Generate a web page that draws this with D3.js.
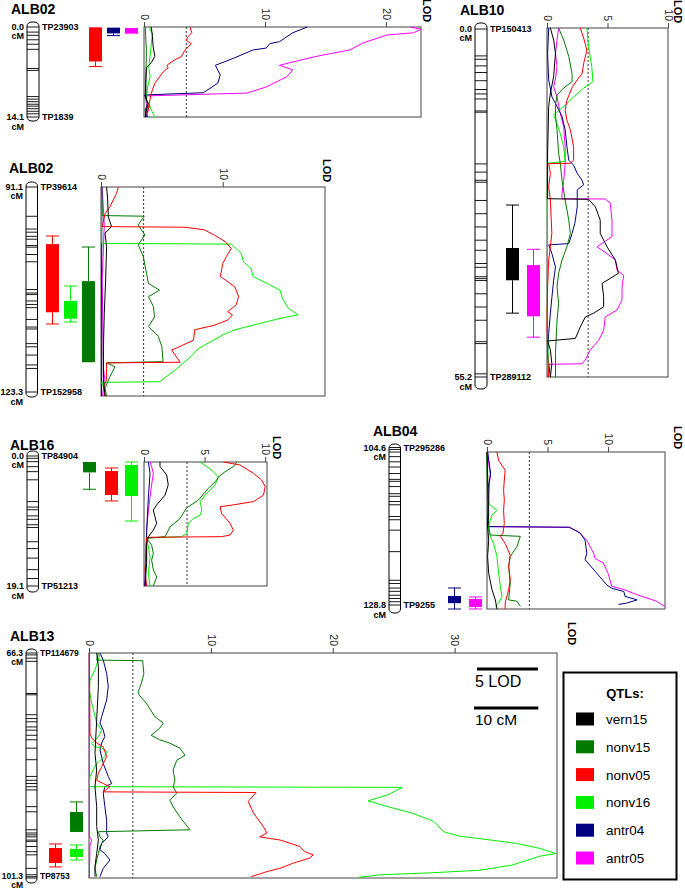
<!DOCTYPE html>
<html><head><meta charset="utf-8">
<script src="https://cdn.jsdelivr.net/npm/d3@7"></script>
<style>
body{margin:0;background:#fff;}
svg{display:block;font-family:"Liberation Sans",Arial,Helvetica,sans-serif;}
</style></head><body>
<svg id="c" width="685" height="890"></svg>
<script>
// ---------------- DATA ----------------
const traits = ["vern15","nonv15","nonv05","nonv16","antr04","antr05"];
const titles = ["ALB02","ALB02","ALB10","ALB16","ALB04","ALB13"];
const endNames = [["TP23903","TP1839"],["TP39614","TP152958"],["TP150413","TP289112"],["TP84904","TP51213"],["TP295286","TP9255"],["TP114679","TP8753"]];
const lodMax = [22.9, 18.4, 10, 10.15, 14.7, 38.4];
const lodTicks = [[0,10,20],[0,10],[0,5,10],[0,5,10],[0,5,10],[0,10,20,30]];
const thresholds = [3.5, 3.5, 3.4, 3.55, 3.5, 3.6];

// marker positions (cM)
const p1_markers = [0,0.8,1.3,2.0,2.7,3.5,6.5,6.8,10.9,11.3,11.7,12.1,12.4,12.8,13.2,13.6,14.1];
const p2_markers = [91.1,95.7,97.7,98.2,98.85,99.3,100.3,100.55,101.7,102.85,107.2,107.75,108.0,109.0,109.55,110.05,111.9,113.1,113.4,115.7,116.2,117.5,119.05,119.6,123.3];
const p3_markers = [0,4.27,4.8,5.85,6.9,8.2,9.6,10.3,11.1,13.0,13.2,21.4,22.7,24.0,24.3,27.2,29.3,31.4,33.5,35.1,37.2,37.8,39.3,39.6,39.9,42.0,44.1,46.2,49.6,49.9,54.7,55.2];
const p4_markers = [0,0.34,0.83,1.57,2.3,3.5,6.7,7.5,7.9,8.8,9.3,10.1,10.5,12.6,13.6,15.0,16.7,18.0,19.1];
const p5_markers = [104.6,104.9,105.3,106.0,106.8,107.6,108.6,109.5,109.8,110.6,111.7,112.1,112.9,113.4,115.2,115.7,117.3,120.6,125.0,125.5,126.2,126.7,127.3,127.8,128.3,128.8];
const p6_markers = [66.3,66.6,67.1,67.6,72.6,72.8,75.9,76.5,77.0,77.8,78.3,79.1,79.8,81.1,82.9,85.5,86.1,86.6,87.1,87.6,90.2,91.0,93.8,94.3,94.6,94.9,95.4,95.6,96.4,97.2,97.7,99.8,100.8,101.1,101.3];

// LOD profiles: [cM, LOD]
const p1_vern15 = [[0,0.6],[1.5,0.7],[3.0,0.75],[4.6,0.9],[5.6,0.6],[6.4,0.2],[8.3,0.15],[10.6,0.1],[12,0.3],[13,0.2],[14.1,0.1]];
const p1_nonv15 = [[0,0.1],[3.6,0.2],[8.8,0.15],[11.4,0.2],[12.4,0.5],[13.5,0.15],[14.1,0.1]];
const p1_nonv05 = [[0,3.8],[0.9,3.95],[1.6,3.6],[2.1,3.5],[2.6,3.9],[3.6,3.4],[4.6,3.1],[5.3,2.4],[6.0,1.9],[6.4,2.0],[7.0,1.6],[8.8,0.9],[10.4,0.6],[11.4,0.5],[13.5,0.25],[14.1,0.3]];
const p1_nonv16 = [[0,0.4],[1,0.7],[3.6,0.55],[6.3,0.4],[7.8,0.5],[9.4,0.3],[11.4,0.2],[13,0.6],[14.1,0.9]];
const p1_antr04 = [[0,13.5],[0.9,12.3],[2.3,11.2],[2.6,10.4],[3.3,10.1],[3.6,9.0],[4.9,7.4],[6.0,5.9],[7.5,6.3],[8.8,6.1],[10.3,4.9],[10.65,0.05],[12,0.3],[13,0.1],[14.1,0.2]];
const p1_antr05 = [[0,22.0],[0.35,22.9],[0.9,22.3],[1.25,20.1],[2.5,18.1],[3.6,17.0],[4.5,14.5],[5.2,12.9],[6.0,11.2],[6.7,12.3],[7.8,11.8],[9.4,10.1],[10.35,8.5],[10.8,0.1],[12,0.2],[13,0.4],[14.1,0.1]];

const p2_vern15 = [[91.1,0.46],[93.1,0.55],[95.7,0.6],[97.2,0.87],[98.2,0.33],[100.3,0.46],[105.4,0.38],[110.6,0.27],[115.7,0.2],[120.8,0.2],[123.3,0.33]];
const p2_nonv15 = [[91.1,0.05],[95.5,0.1],[95.6,3.55],[96.95,3.06],[98.5,3.6],[100.0,3.06],[101.8,3.47],[104.4,3.74],[105.95,3.9],[107.0,4.8],[108.0,3.9],[109.5,4.3],[111.1,4.4],[112.6,3.9],[114.1,4.7],[115.7,5.0],[118.0,5.1],[118.2,0.46],[118.8,1.15],[120.3,0.74],[122.1,0.33],[123.3,0.46]];
const p2_nonv05 = [[91.1,1.42],[92.1,1.28],[94.1,0.74],[95.2,0.33],[97.2,0.1],[97.3,6.9],[97.7,8.5],[98.5,9.3],[99.5,10.2],[100.55,10.7],[101.8,10.3],[102.9,10.0],[104.9,9.8],[105.4,10.2],[106.5,11.0],[108.0,11.3],[109.3,11.1],[110.3,10.4],[110.8,10.8],[111.6,10.4],[112.4,9.3],[113.1,7.7],[114.7,7.6],[116.0,6.1],[116.2,5.8],[118.1,6.5],[118.2,0.46],[120.8,0.46],[121.9,0.2],[123.3,0.33]];
const p2_nonv16 = [[91.1,0.05],[99.8,0.05],[99.9,10.7],[101.3,11.5],[102.6,11.7],[103.6,12.3],[104.9,12.5],[106.0,13.7],[107.0,14.7],[108.25,14.9],[109.8,15.4],[110.8,16.2],[111.3,14.8],[113.1,11.0],[113.9,10.0],[116.0,8.0],[117.2,7.4],[119.3,6.1],[121.1,4.8],[121.2,0.05],[122.4,0.33],[123.3,0.2]];
const p2_antr04 = [[91.1,0.08],[105,0.05],[115,0.06],[123.3,0.05]];
const p2_antr05 = [[91.1,0.1],[97,0.27],[105.4,0.1],[119.0,0.2],[121,0.33],[123.3,0.1]];

const p3_vern15 = [[0,0.28],[1.9,0.55],[4.0,0.7],[7.7,0.55],[10.3,0.28],[12.4,0.14],[19.8,0.05],[27.0,0.05],[27.1,3.44],[28.3,4.0],[30.4,4.4],[32.5,4.4],[34.6,4.96],[36.7,5.65],[38.8,5.9],[39.6,5.23],[40.4,4.55],[42.5,4.68],[44.1,4.68],[45.1,3.86],[45.7,3.17],[47.3,2.75],[49.1,2.34],[49.5,0.05],[50.9,0.28],[53.1,0.4],[55.2,0.28]];
const p3_nonv15 = [[0,0.96],[1.9,1.38],[4.5,1.8],[7.2,2.07],[8.5,2.07],[9.5,1.38],[10.6,0.83],[12.2,0.7],[13.8,0.7],[16.1,0.83],[19.8,0.96],[21.4,1.1],[24.1,1.24],[27.2,1.5],[30.4,1.8],[32.5,1.93],[34.6,1.65],[36.7,1.24],[38.8,0.96],[40.9,0.83],[43.6,0.96],[46.2,0.83],[51.5,0.7],[55.2,0.7]];
const p3_nonv05 = [[0,2.75],[1.6,3.03],[3.5,3.3],[5.6,3.03],[7.2,2.9],[8.2,2.5],[9.3,2.1],[11.4,1.65],[13.0,1.5],[14.6,1.65],[16.1,1.93],[18.8,2.2],[20.9,2.2],[21.4,1.93],[21.45,0.14],[23.0,0.28],[25.1,0.14],[27.2,0.28],[32.5,0.4],[34.6,0.28],[36.7,0.14],[40.9,0.05],[46.2,0.0],[51.5,0.05],[55.2,0.14]];
const p3_nonv16 = [[0,3.3],[3.0,3.44],[6.1,3.7],[8.5,3.8],[9.5,3.03],[10.9,2.2],[12.4,1.38],[13.5,0.7],[13.8,0.55],[15.1,0.83],[16.7,1.1],[18.8,1.38],[21.1,1.5],[21.4,0.05],[26.7,0.02],[36,0.05],[46,0.02],[55.2,0.14]];
const p3_antr04 = [[0,0.14],[4.0,0.05],[8.2,0.14],[10.9,0.41],[12.4,0.83],[14.0,1.24],[16.1,1.5],[18.8,1.65],[20.9,1.8],[21.7,2.2],[23.0,2.5],[24.1,2.9],[24.8,3.03],[25.6,2.5],[28.3,2.5],[30.9,2.3],[32.5,2.07],[34.1,1.8],[34.3,0.14],[35.7,0.41],[37.8,0.7],[39.9,0.55],[42.5,0.41],[45.1,0.28],[48.3,0.14],[51.5,0.05],[55.2,0.28]];
const p3_antr05 = [[0,0.96],[1.9,0.83],[4.0,0.7],[6.1,0.83],[8.0,0.7],[9.3,0.55],[10.9,0.83],[13.5,1.1],[15.6,1.38],[18.8,1.5],[21.4,1.5],[24.1,1.38],[26.2,1.24],[27.0,1.24],[27.05,4.82],[27.7,5.23],[30.4,5.37],[33.0,5.37],[34.6,4.13],[35.7,4.96],[36.7,5.65],[38.3,5.79],[39.1,6.34],[40.9,6.2],[43.0,6.2],[44.6,5.79],[45.7,4.82],[47.8,4.68],[49.4,4.27],[50.9,3.58],[52.5,3.17],[53.1,2.9],[53.2,0.14],[55.2,0.05]];

const p4_vern15 = [[0,1.32],[0.7,1.32],[2.0,1.87],[3.5,2.0],[5.1,1.74],[6.6,1.05],[7.4,0.77],[8.4,0.9],[9.45,1.05],[10.5,0.77],[11.5,0.36],[12.5,0.22],[15.6,0.22],[19.1,0.08]];
const p4_nonv15 = [[0,7.66],[0.7,7.38],[1.5,6.69],[2.3,6.14],[2.8,6.0],[4.06,5.3],[5.85,4.5],[7.1,3.5],[8.7,2.98],[10.0,2.15],[11.5,1.74],[11.76,0.22],[12.8,0.63],[14.1,0.77],[15.1,0.63],[16.6,0.77],[17.7,1.05],[19.1,0.77]];
const p4_nonv05 = [[0,6.56],[0.46,7.93],[1.75,9.04],[2.8,9.72],[3.8,10.0],[5.1,9.86],[6.1,9.04],[6.6,7.38],[6.9,6.28],[7.9,6.4],[9.45,7.1],[10.5,7.38],[11.25,7.1],[11.5,6.4],[11.6,0.22],[14.1,0.17],[16.6,0.08],[19.1,0.22]];
const p4_nonv16 = [[0,4.63],[0.7,5.18],[1.5,5.73],[2.3,6.14],[3.5,5.87],[4.8,5.18],[6.1,4.63],[7.4,4.77],[8.2,4.63],[8.7,4.08],[9.45,3.66],[11.0,3.53],[11.5,3.1],[11.7,0.22],[14.6,0.5],[17.2,0.36],[19.1,0.5]];
const p4_antr04 = [[0,0.36],[1.75,0.5],[5.4,0.36],[10.5,0.22],[19.1,0.08]];
const p4_antr05 = [[0,0.5],[0.7,0.63],[1.75,0.77],[3.5,0.63],[5.4,0.5],[7.4,0.36],[10.5,0.22],[15.6,0.14],[19.1,0.08]];

const p5_vern15 = [[104.6,0],[114.1,0.14],[116.1,0.05],[118.2,0.14],[120.7,0.05],[123.3,0.14],[125.8,0.41],[127.4,0.69],[128.8,0.82]];
const p5_nonv15 = [[104.6,0],[113,0.05],[116,0.14],[117.4,0.27],[117.6,2.75],[119.2,2.47],[120.7,1.92],[122.2,1.79],[124.8,1.92],[127.4,1.79],[127.6,2.47],[128.4,2.75]];
const p5_nonv05 = [[104.6,0.82],[105.9,0.96],[107.4,1.5],[108.9,1.43],[110.5,1.37],[112.0,1.43],[113.6,1.37],[115.6,1.43],[117.1,1.32],[117.6,1.1],[118.7,1.5],[120.5,1.92],[122.2,1.79],[124.3,1.92],[125.8,1.79],[127.9,1.5],[128.8,1.5]];
const p5_nonv16 = [[104.6,0],[112.1,0.05],[112.8,0.27],[113.6,0.82],[114.3,0.41],[115.1,0.27],[116,0.14],[117.1,0.14],[118.7,0.55],[120.7,0.82],[123.3,0.96],[125.3,1.1],[126.85,1.24],[127.9,0.96],[128.4,0.69]];
const p5_antr04 = [[104.6,0.05],[106.5,0.2],[108,0.3],[110,0.1],[113,0.05],[116.1,0.05],[116.2,6.8],[117.1,7.7],[118.2,8.1],[120.2,8.24],[121.2,8.1],[123.0,8.93],[125.1,9.9],[125.6,10.3],[126.1,11.3],[126.85,11.4],[127.4,12.4],[127.9,11.5],[128.1,10.85]];
const p5_antr05 = [[104.6,0.05],[106.4,0.14],[108,0.27],[109.5,0.2],[113,0.14],[116.1,0.05],[116.2,6.8],[116.9,7.55],[118.2,8.24],[120.2,8.8],[121.0,8.93],[121.7,9.6],[123.3,10.0],[125.3,10.3],[125.8,11.3],[126.6,12.4],[127.1,13.2],[127.6,14.0],[128.1,14.4],[128.4,14.7]];

const p6_vern15 = [[66.3,0.63],[68.4,0.77],[71.5,0.77],[76.7,0.63],[81.9,0.49],[84.5,0.63],[87.1,0.49],[90.2,0.63],[93.3,0.63],[95.4,0.77],[97.5,0.63],[99.5,0.49],[101.1,0.49]];
const p6_nonv15 = [[66.3,0.77],[67.4,0.63],[67.5,4.4],[69.5,4.5],[71.0,4.3],[72.3,4.04],[72.8,4.1],[74.1,4.7],[76.2,5.4],[77.2,6.1],[78.0,5.8],[79.1,5.1],[79.8,5.8],[80.3,6.6],[81.1,7.46],[82.2,7.87],[83.0,7.2],[84.5,6.9],[86.1,7.05],[87.1,6.9],[88.1,7.2],[89.2,6.64],[90.2,6.9],[91.8,7.46],[93.8,8.28],[94.1,0.77],[94.9,0.9],[95.4,1.17],[96.4,0.9],[97.5,0.77],[98.5,0.63],[99.8,0.49],[101.1,0.63]];
const p6_nonv05 = [[66.3,0.03],[78.8,0.08],[79.5,0.22],[80.3,0.63],[80.9,1.17],[82.4,1.45],[84.0,1.04],[85.0,0.77],[86.1,0.63],[86.6,1.17],[87.1,1.72],[87.9,1.17],[88.0,13.7],[89.4,13.06],[91.2,13.5],[93.3,14.3],[94.3,14.6],[94.9,14.0],[95.4,15.7],[96.4,17.3],[97.2,17.7],[97.7,18.4],[98.2,18.1],[99.0,16.75],[99.8,15.66],[100.3,14.6],[101.1,13.3]];
const p6_nonv16 = [[66.3,0.9],[67.4,0.77],[68.9,0.49],[70.5,0.08],[72.1,0.03],[74.1,0.22],[77.2,0.63],[78.3,1.04],[79.3,0.77],[80.4,0.22],[80.9,0.49],[81.1,1.04],[81.6,1.45],[82.4,1.3],[83.5,0.63],[85.5,0.08],[86.8,0.03],[87.1,0.05],[87.2,25.7],[88.3,24.6],[89.3,22.9],[90.2,24.5],[91.2,26.5],[92.5,28.3],[94.1,29.1],[94.8,30.4],[95.4,33.0],[95.9,35.0],[96.7,37.0],[97.5,38.3],[97.9,37.0],[99.3,34.7],[100.1,32.0],[100.5,28.0],[100.8,23.9],[101.2,22.1]];
const p6_antr04 = [[66.3,0.9],[67.4,1.17],[69.5,1.45],[71.5,1.58],[73.6,1.45],[76.2,1.04],[77.2,0.9],[78.3,1.17],[79.3,1.3],[80.3,1.04],[81.4,0.9],[83.5,1.17],[85.5,1.58],[86.6,1.86],[87.1,1.3],[88.1,1.17],[90.2,1.3],[92.3,1.45],[94.3,1.45],[94.9,1.58],[95.9,1.04],[96.9,0.9],[97.5,1.3],[98.5,1.72],[99.8,1.17],[101.1,0.9]];
const p6_antr05 = [[66.3,0.03],[94.9,0.03],[95.4,0.22],[96.2,0.08],[101.3,0.03]];

// QTL intervals: [trait, whiskerTop, boxTop, boxBottom, whiskerBottom] (cM)
const p1_qtl = [["nonv05",0.05,0.05,5.4,6.2],["antr04",0.1,0.1,1.0,1.35],["antr05",0.15,0.15,1.05,1.05]];
const p2_qtl = [["nonv05",98.65,99.9,110.4,112.2],["nonv16",106.35,108.65,111.4,111.9],["nonv15",100.35,105.6,118.1,118.1]];
const p3_qtl = [["vern15",28.0,34.8,39.9,45.1],["antr05",35.0,37.5,45.6,48.9]];
const p4_qtl = [["nonv15",0,0,1.6,4.2],["nonv05",0.92,1.39,5.08,6.0],["nonv16",0,0.46,5.24,9.09]];
const p5_qtl = [["antr04",125.56,126.8,127.9,128.8],["antr05",126.95,127.25,128.5,128.8]];
const p6_qtl = [["nonv15",89.47,91.03,94.14,94.14],["nonv05",96.0,96.63,98.96,99.58],["nonv16",96.16,96.78,98.03,98.5]];

const legendTitle = "QTLs:";
const scaleLOD = 5, scaleCM = 10;

const panelData = [
  {markers:p1_markers, curves:[p1_vern15,p1_nonv15,p1_nonv05,p1_nonv16,p1_antr04,p1_antr05], qtl:p1_qtl},
  {markers:p2_markers, curves:[p2_vern15,p2_nonv15,p2_nonv05,p2_nonv16,p2_antr04,p2_antr05], qtl:p2_qtl},
  {markers:p3_markers, curves:[p3_vern15,p3_nonv15,p3_nonv05,p3_nonv16,p3_antr04,p3_antr05], qtl:p3_qtl},
  {markers:p4_markers, curves:[p4_vern15,p4_nonv15,p4_nonv05,p4_nonv16,p4_antr04,p4_antr05], qtl:p4_qtl},
  {markers:p5_markers, curves:[p5_vern15,p5_nonv15,p5_nonv05,p5_nonv16,p5_antr04,p5_antr05], qtl:p5_qtl},
  {markers:p6_markers, curves:[p6_vern15,p6_nonv15,p6_nonv05,p6_nonv16,p6_antr04,p6_antr05], qtl:p6_qtl}
];

// ---------------- LAYOUT / STYLE ----------------
const COLORS = {vern15:"#000000", nonv15:"#007a00", nonv05:"#ff0000", nonv16:"#00f000", antr04:"#000080", antr05:"#ff00ff"};
const LAYOUT = [
 {tx:11, ty:13.5, cx:27, cw:12, cy:[27,117], padT:5, padB:4, x0:144, x1:421, y0:27, y1:117, lx:427, ly:-1, qx:[89,107,125], fs:9, lb:3.2, cmB:12.5},
 {tx:9, ty:173, cx:26, cw:11.5, cy:[187,392], padT:5, padB:5, x0:101, x1:325, y0:187, y1:396, lx:327, ly:159, qx:[46,64,82], fs:9, lb:3.2, cmB:12.5},
 {tx:460, ty:15, cx:475, cw:12, cy:[29,377], padT:6, padB:12, x0:547, x1:668, y0:28, y1:377, lx:678, ly:0, qx:[506,527], fs:9, lb:3.2, cmB:12.5},
 {tx:10, ty:449.5, cx:27, cw:11.5, cy:[456,586], padT:5, padB:6, x0:144, x1:267, y0:462, y1:586, lx:277, ly:436, qx:[83,105,125], fs:9, lb:3.2, cmB:12.5},
 {tx:373, ty:436, cx:389, cw:11.5, cy:[447.5,605], padT:3.5, padB:8, x0:487, x1:665, y0:452, y1:609, lx:678, ly:426, qx:[448,469], fs:9, lb:3.2, cmB:12.5},
 {tx:10, ty:641, cx:26, cw:11, cy:[653,878], padT:4, padB:5, x0:89, x1:557, y0:653, y1:878, lx:572, ly:622, qx:[70,49,70], fs:8.5, lb:0.5, cmB:10.2}
];
const QW = 13;

const svg = d3.select("#c");
const drawOrder = [5,4,3,1,2,0];

panelData.forEach((P, i) => {
  const L = LAYOUT[i];
  const g = svg.append("g");
  const m0 = P.markers[0], m1 = P.markers[P.markers.length-1];
  const yC = d3.scaleLinear().domain([m0, m1]).range(L.cy);
  const y = d3.scaleLinear().domain([m0, m1]).range([L.y0, L.y1]);
  const x = d3.scaleLinear().domain([0, lodMax[i]]).range([L.x0, L.x1]);

  // title
  g.append("text").attr("x", L.tx).attr("y", L.ty).attr("font-size", 14).attr("font-weight", "bold").text(titles[i]);

  // chromosome
  g.append("rect").attr("x", L.cx).attr("width", L.cw)
    .attr("y", yC(m0) - L.padT).attr("height", yC(m1) - yC(m0) + L.padT + L.padB)
    .attr("rx", 5).attr("ry", 4).attr("fill", "#fff").attr("stroke", "#000").attr("stroke-width", 1);
  g.selectAll(null).data(P.markers).enter().append("line")
    .attr("x1", L.cx).attr("x2", L.cx + L.cw)
    .attr("y1", d => yC(d)).attr("y2", d => yC(d))
    .attr("stroke", "#000").attr("stroke-width", 0.9);

  const lab = (txt, xx, yy, anchor) => g.append("text").attr("x", xx).attr("y", yy)
      .attr("font-size", L.fs).attr("font-weight", "bold").attr("text-anchor", anchor).text(txt);
  lab(m0.toFixed(1), L.cx - 3, yC(m0) + 3.2, "end");
  lab("cM", L.cx - 3, yC(m0) + 12, "end");
  lab(m1.toFixed(1), L.cx - 3, yC(m1) + L.lb, "end");
  lab("cM", L.cx - 3, yC(m1) + L.cmB, "end");
  lab(endNames[i][0], L.cx + L.cw + 3, yC(m0) + 3.2, "start");
  lab(endNames[i][1], L.cx + L.cw + 3, yC(m1) + L.lb, "start");

  // QTL boxes
  P.qtl.forEach((q, j) => {
    const col = COLORS[q[0]];
    const bx = L.qx[j], cxm = bx + QW / 2;
    const gq = g.append("g");
    if (q[1] < q[2]) {
      gq.append("line").attr("x1", cxm).attr("x2", cxm).attr("y1", y(q[1])).attr("y2", y(q[2])).attr("stroke", col);
      gq.append("line").attr("x1", bx).attr("x2", bx + QW).attr("y1", y(q[1])).attr("y2", y(q[1])).attr("stroke", col);
    }
    if (q[4] > q[3]) {
      gq.append("line").attr("x1", cxm).attr("x2", cxm).attr("y1", y(q[3])).attr("y2", y(q[4])).attr("stroke", col);
      gq.append("line").attr("x1", bx).attr("x2", bx + QW).attr("y1", y(q[4])).attr("y2", y(q[4])).attr("stroke", col);
    }
    gq.append("rect").attr("x", bx).attr("width", QW).attr("y", y(q[2])).attr("height", Math.max(1, y(q[3]) - y(q[2]))).attr("fill", col);
  });

  // frame
  g.append("rect").attr("x", L.x0).attr("y", L.y0).attr("width", L.x1 - L.x0).attr("height", L.y1 - L.y0)
    .attr("fill", "none").attr("stroke", "#444").attr("stroke-width", 1);

  // axis
  const ax = g.append("g").attr("transform", `translate(0,${L.y0})`)
    .call(d3.axisTop(x).tickValues(lodTicks[i]).tickSize(5).tickSizeOuter(0).tickFormat(d3.format("d")));
  ax.select(".domain").remove();
  ax.selectAll(".tick line").attr("stroke", "#444");
  ax.selectAll(".tick text").attr("transform", "rotate(90)").attr("x", -7).attr("y", 0).attr("dy", "0.35em")
    .attr("text-anchor", "end").attr("font-size", 10.5).attr("fill", "#222")
    .attr("font-family", "'Liberation Sans',Arial,sans-serif");

  // LOD label
  g.append("text").attr("transform", `translate(${L.lx},${L.ly}) rotate(90)`).attr("dy", "0.35em")
    .attr("font-size", 11).attr("font-weight", "bold").text("LOD");

  // threshold
  g.append("line").attr("x1", x(thresholds[i])).attr("x2", x(thresholds[i])).attr("y1", L.y0).attr("y2", L.y1)
    .attr("stroke", "#333").attr("stroke-width", 1).attr("stroke-dasharray", "2,2");

  // curves
  const line = d3.line().x(d => x(d[1])).y(d => y(d[0]));
  drawOrder.forEach(k => {
    g.append("path").attr("d", line(P.curves[k])).attr("fill", "none")
      .attr("stroke", COLORS[traits[k]]).attr("stroke-width", 1).attr("stroke-linejoin", "round");
  });

  // scale bars in last panel
  if (i === 5) {
    const lodLen = x(scaleLOD) - x(0);
    const cmLen = y(m0 + scaleCM) - y(m0);
    g.append("line").attr("x1", 477).attr("x2", 477 + lodLen).attr("y1", 669).attr("y2", 669).attr("stroke", "#000").attr("stroke-width", 3);
    g.append("text").attr("x", 475).attr("y", 686.5).attr("font-size", 16).text(scaleLOD + " LOD");
    g.append("line").attr("x1", 474).attr("x2", 474 + cmLen).attr("y1", 708).attr("y2", 708).attr("stroke", "#000").attr("stroke-width", 3);
    g.append("text").attr("x", 475).attr("y", 725).attr("font-size", 15.5).text(scaleCM + " cM");
  }
});

// legend
const lg = svg.append("g");
lg.append("rect").attr("x", 563.5).attr("y", 672.5).attr("width", 113).attr("height", 207)
  .attr("fill", "#fff").attr("stroke", "#000").attr("stroke-width", 2);
lg.append("text").attr("x", 625).attr("y", 697.5).attr("text-anchor", "middle").attr("font-size", 13).attr("font-weight", "bold").text(legendTitle);
traits.forEach((t, k) => {
  const cy = 719 + k * 27.8;
  lg.append("rect").attr("x", 576).attr("y", cy - 6.5).attr("width", 18).attr("height", 13).attr("fill", COLORS[t]);
  lg.append("text").attr("x", 606).attr("y", cy + 5).attr("font-size", 13.5).text(t);
});
</script>
</body></html>
